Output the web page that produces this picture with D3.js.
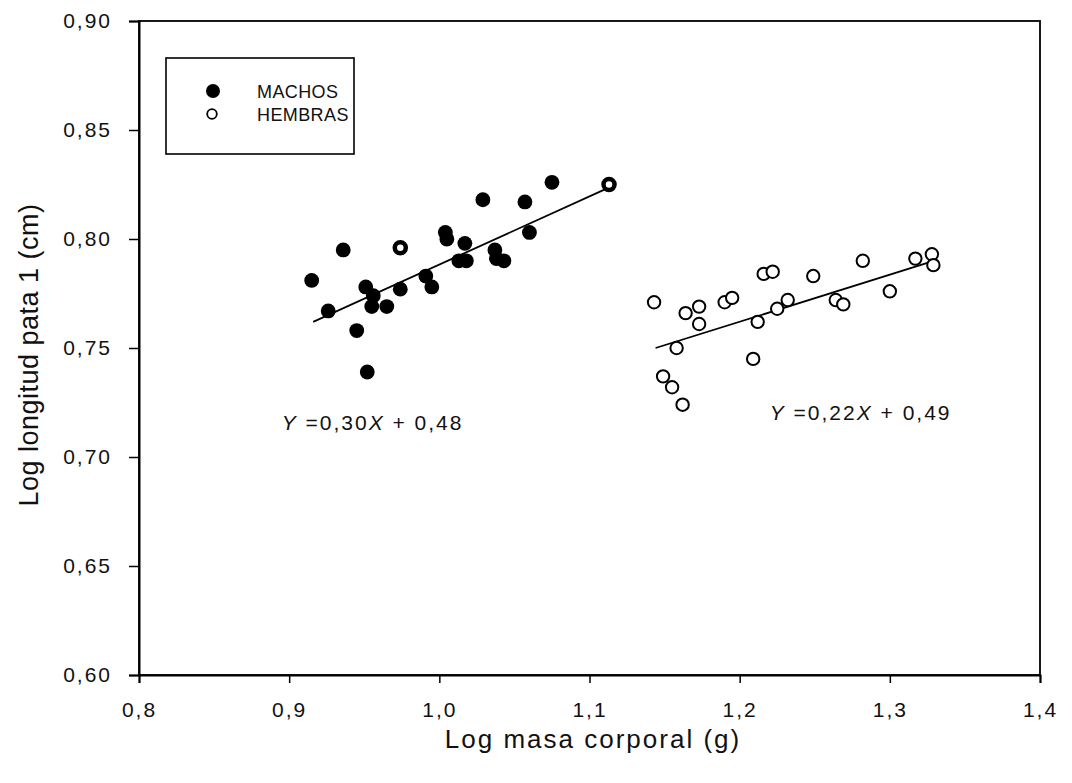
<!DOCTYPE html>
<html>
<head>
<meta charset="utf-8">
<script src="https://cdn.jsdelivr.net/npm/d3@7"></script>
<style>
  body { margin: 0; background: #fff; }
  text { font-family: "Liberation Sans", Arial, sans-serif; fill: #111; }
</style>
</head>
<body>
<svg id="grafico"></svg>
<script>
// ------ Datos ------
var machosX = [0.915, 0.926, 0.936, 0.945, 0.952, 0.951, 0.956, 0.955, 0.965, 0.974, 0.991, 0.995,
               1.004, 1.005, 1.017, 1.013, 1.018, 1.029, 1.037, 1.038, 1.043, 1.057, 1.060, 1.075];
var machosY = [0.781, 0.767, 0.795, 0.758, 0.739, 0.778, 0.774, 0.769, 0.769, 0.777, 0.783, 0.778,
               0.803, 0.800, 0.798, 0.790, 0.790, 0.818, 0.795, 0.791, 0.790, 0.817, 0.803, 0.826];
// puntos con centro blanco
var marcadosX = [0.974, 1.113];
var marcadosY = [0.796, 0.825];

var hembrasX = [1.143, 1.164, 1.173, 1.173, 1.158, 1.149, 1.155, 1.162, 1.190, 1.195, 1.216, 1.222,
                1.212, 1.209, 1.225, 1.232, 1.249, 1.264, 1.269, 1.282, 1.300, 1.317, 1.328, 1.329];
var hembrasY = [0.771, 0.766, 0.769, 0.761, 0.750, 0.737, 0.732, 0.724, 0.771, 0.773, 0.784, 0.785,
                0.762, 0.745, 0.768, 0.772, 0.783, 0.772, 0.770, 0.790, 0.776, 0.791, 0.793, 0.788];

// rectas de regresion (extremos)
var rectaMachos = [[0.916, 0.762], [1.111, 0.823]];
var rectaHembras = [[1.144, 0.750], [1.325, 0.789]];

var ticksX = [0.8, 0.9, 1.0, 1.1, 1.2, 1.3, 1.4];
var ticksY = [0.60, 0.65, 0.70, 0.75, 0.80, 0.85, 0.90];

var ecuaciones = [
  { x: 0.895, y: 0.7124, coef: "0,30", ord: "0,48" },
  { x: 1.220, y: 0.717, coef: "0,22", ord: "0,49" }
];

// ------ Dibujo ------
var width = 1072, height = 783;
var svg = d3.select("#grafico").attr("width", width).attr("height", height);

var x = d3.scaleLinear().domain([0.8, 1.4]).range([139, 1040]);
var y = d3.scaleLinear().domain([0.60, 0.90]).range([675, 21]);

var coma = function (d, n) { return d.toFixed(n).replace(".", ","); };

// marco
svg.append("rect")
  .attr("x", x(0.8)).attr("y", y(0.90))
  .attr("width", x(1.4) - x(0.8)).attr("height", y(0.60) - y(0.90))
  .attr("fill", "none").attr("stroke", "#000").attr("stroke-width", 1.8);

// ejes
var ejeX = svg.append("g").attr("transform", "translate(0," + y(0.60) + ")")
  .call(d3.axisBottom(x).tickValues(ticksX).tickSize(8).tickPadding(19).tickFormat(function (d) { return coma(d, 1); }));
var ejeY = svg.append("g").attr("transform", "translate(" + x(0.8) + ",0)")
  .call(d3.axisLeft(y).tickValues(ticksY).tickSize(10).tickPadding(17).tickFormat(function (d) { return coma(d, 2); }));

[ejeX, ejeY].forEach(function (g) {
  g.select(".domain").attr("stroke", "#000").attr("stroke-width", 2);
  g.selectAll(".tick line").attr("stroke", "#000").attr("stroke-width", 1.5);
  g.selectAll(".tick text").attr("font-size", 21).attr("fill", "#111")
    .attr("letter-spacing", 2)
    .attr("font-family", "Liberation Sans, Arial, sans-serif");
});

// titulos de ejes
svg.append("text")
  .attr("x", 593).attr("y", 748)
  .attr("text-anchor", "middle").attr("font-size", 26).attr("letter-spacing", 2)
  .text("Log masa corporal (g)");

svg.append("text")
  .attr("transform", "translate(38,355) rotate(-90)")
  .attr("text-anchor", "middle").attr("font-size", 27).attr("letter-spacing", 0.5)
  .text("Log longitud pata 1 (cm)");

// rectas
var linea = d3.line().x(function (d) { return x(d[0]); }).y(function (d) { return y(d[1]); });
[rectaMachos, rectaHembras].forEach(function (r) {
  svg.append("path").attr("d", linea(r)).attr("fill", "none")
    .attr("stroke", "#000").attr("stroke-width", 1.8);
});

// hembras
svg.append("g").selectAll("circle")
  .data(d3.range(hembrasX.length))
  .enter().append("circle")
  .attr("cx", function (i) { return x(hembrasX[i]); })
  .attr("cy", function (i) { return y(hembrasY[i]); })
  .attr("r", 6.2)
  .attr("fill", "#fff").attr("stroke", "#000").attr("stroke-width", 2);

// machos
svg.append("g").selectAll("circle")
  .data(d3.range(machosX.length))
  .enter().append("circle")
  .attr("cx", function (i) { return x(machosX[i]); })
  .attr("cy", function (i) { return y(machosY[i]); })
  .attr("r", 7.4)
  .attr("fill", "#000");

svg.append("g").selectAll("circle")
  .data(d3.range(marcadosX.length))
  .enter().append("circle")
  .attr("cx", function (i) { return x(marcadosX[i]); })
  .attr("cy", function (i) { return y(marcadosY[i]); })
  .attr("r", 5.5)
  .attr("fill", "#fff").attr("stroke", "#000").attr("stroke-width", 4.5);

// ecuaciones
ecuaciones.forEach(function (e) {
  var t = svg.append("text").attr("x", x(e.x)).attr("y", y(e.y))
    .attr("font-size", 21).attr("letter-spacing", 2);
  t.append("tspan").attr("font-style", "italic").text("Y");
  t.append("tspan").text(" =" + e.coef);
  t.append("tspan").attr("font-style", "italic").text("X");
  t.append("tspan").text(" + " + e.ord);
});

// leyenda
var ley = svg.append("g");
ley.append("rect").attr("x", 166).attr("y", 58).attr("width", 188).attr("height", 96)
  .attr("fill", "#fff").attr("stroke", "#000").attr("stroke-width", 1.6);
ley.append("circle").attr("cx", 213).attr("cy", 91).attr("r", 7).attr("fill", "#000");
ley.append("circle").attr("cx", 212).attr("cy", 114).attr("r", 4.8)
  .attr("fill", "#fff").attr("stroke", "#000").attr("stroke-width", 1.8);
ley.append("text").attr("x", 257).attr("y", 98).attr("font-size", 18).attr("letter-spacing", 0.4).text("MACHOS");
ley.append("text").attr("x", 257).attr("y", 121).attr("font-size", 18).attr("letter-spacing", 0.4).text("HEMBRAS");
</script>
</body>
</html>
